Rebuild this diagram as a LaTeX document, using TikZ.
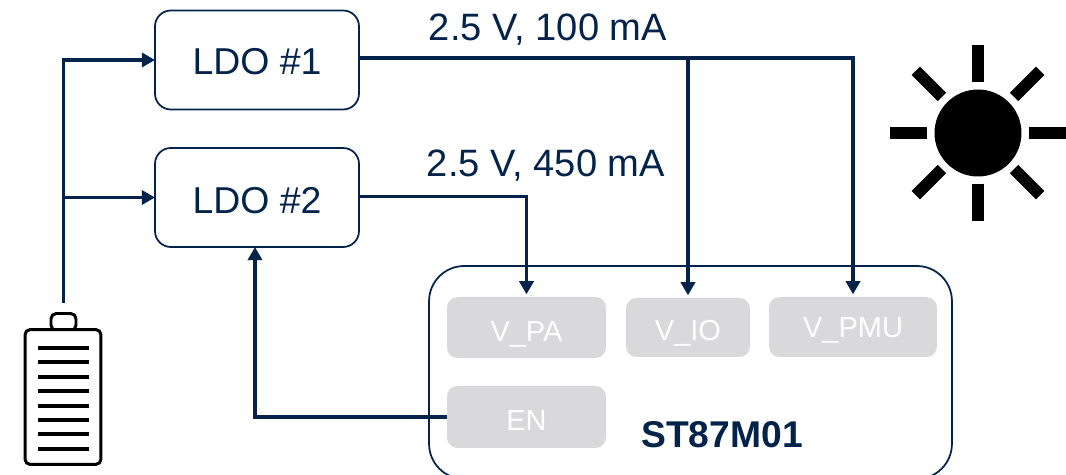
\documentclass[tikz,border=0pt]{standalone}
\usepackage{fontspec}
\setmainfont{Liberation Sans}
\setsansfont{Liberation Sans}
\usetikzlibrary{arrows.meta,calc}
\definecolor{stblue}{HTML}{03234B}
\definecolor{pingrey}{HTML}{D9D9DC}
\tikzset{every picture/.style={/utils/exec={\sffamily}}}
\tikzset{ldo/.style={draw=stblue,line width=1pt,outer sep=0pt,rounded corners=9pt,minimum width=4.08cm,minimum height=1.98cm,text=stblue,font=\fontsize{21.3}{24}\selectfont,text height=16.5pt,text depth=0pt}}
\tikzset{pin/.style={fill=pingrey,outer sep=0pt,rounded corners=6pt,minimum height=1.22cm,text=white,font=\fontsize{16.5}{18}\selectfont,text height=15pt,text depth=0pt}}
\tikzset{wire/.style={-{Triangle[width=8pt,length=7.5pt]},stblue,line width=2.1pt}}
\tikzset{pinwire/.style={wire,shorten >=1.5pt}}
\tikzset{rail/.style={font=\fontsize{21.7}{24}\selectfont,text=stblue}}
\tikzset{battline/.style={black,line width=2.2pt}}
\tikzset{sunray/.style={black,line width=6.8pt}}

\begin{document}
\begin{tikzpicture}[x=0.02cm,y=-0.02cm]
    \useasboundingbox (0,0) rectangle (1066,475);
    \node [draw=stblue,line width=1pt,outer sep=0pt,rounded corners=20pt,minimum width=10.46cm,minimum height=4.26cm] (chip) at (690.5,372.5) {};
    \node [ldo] (ldo1) at (257,60) {LDO \#1};
    \node [ldo,text height=18pt] (ldo2) at (257,197.5) {LDO \#2};
    \node [pin,minimum width=3.18cm,text height=15.8pt] (vpa) at (526.5,327.5) {V\_PA};
    \node [pin,minimum width=2.48cm,minimum height=1.18cm,text height=14.6pt] (vio) at (688,327.5) {V\_IO};
    \node [pin,minimum width=3.36cm,minimum height=1.2cm,text height=12pt] (vpmu) at (853,327) {V\_PMU};
    \node [pin,minimum width=3.18cm,minimum height=1.24cm] (en) at (526.5,417) {EN};
    \node [font=\fontsize{21.2}{24}\selectfont\bfseries,text=stblue] (name) at (722,435) {ST87M01};
    \node [rail] (rail1) at (548,30) {2.5 V, 100 mA};
    \node [rail] (rail2) at (546,166) {2.5 V, 450 mA};
    % battery
    \node [draw=black,line width=1.7pt,outer sep=0pt,rounded corners=3pt,minimum width=0.5cm,minimum height=0.34cm] (cap) at (63.5,322) {};
    \node [draw=black,fill=white,line width=1.7pt,outer sep=0pt,rounded corners=3pt,minimum width=1.52cm,minimum height=2.7cm] (batt) at (63,397) {};
    \foreach \y in {348,362,377,391,406,420,434,449}
        \draw [battline] (38,\y) -- (89,\y);
    % sun
    \node [fill=black,circle,minimum size=1.74cm,inner sep=0pt] (sun) at (978,133) {};
    \foreach \ang in {0,45,...,315}
        \draw [sunray] ($(sun)+(\ang:51)$) -- ($(sun)+(\ang:88)$);
    % wires
    \draw [wire,shorten <=6.2pt] (cap.north) |- (ldo1.west);
    \draw [wire] ($(cap.north)+(0,-11)$) |- (ldo2.west);
    \draw [pinwire] ($(ldo1.east)+(0,-2)$) -| (vpmu.north);
    \draw [pinwire] ($(ldo1.east)+(0,-2)$) -| (vio.north);
    \draw [pinwire] ($(ldo2.east)+(0,-1)$) -| (vpa.north);
    \draw [wire] (en.west) -| ($(ldo2.south)+(-2,0)$);
\end{tikzpicture}
\end{document}
